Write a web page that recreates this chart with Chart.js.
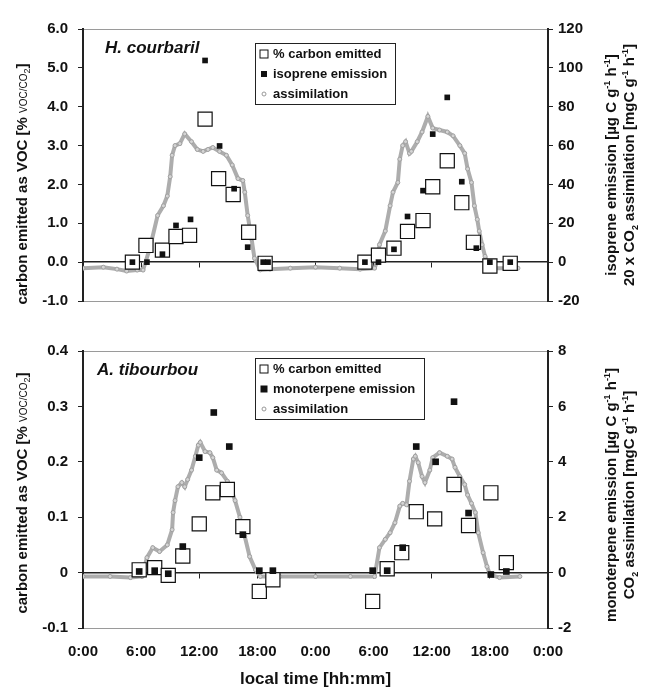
<!DOCTYPE html>
<html>
<head>
<meta charset="utf-8">
<script src="https://cdn.jsdelivr.net/npm/chart.js@4.4.0/dist/chart.umd.min.js"></script>
<style>
  body { margin: 0; background: #fff; font-family: 'Liberation Sans', Arial, sans-serif; color: #111; }
  #page { position: relative; width: 649px; height: 690px; overflow: hidden; }
  canvas { position: absolute; left: 0; }
  #topChart { top: 0; }
  #bottomChart { top: 320px; }
  .species { position: absolute; font-weight: bold; font-style: italic; font-size: 17px; line-height: 18px; white-space: nowrap; }
  .legend { position: absolute; border: 1px solid #222; background: #fff; font-size: 13px; font-weight: bold; box-sizing: border-box; }
  .legend div { position: relative; height: 20px; line-height: 20px; padding-left: 17px; white-space: nowrap; }
  .mk { position: absolute; left: 8px; top: 50%; transform: translate(-50%, -50%); box-sizing: border-box; }
  .mk-open { width: 9px; height: 9px; border: 1px solid #111; background: #fff; }
  .mk-fill { width: 6px; height: 6px; background: #111; }
  .mk-dot { width: 5px; height: 5px; border: 1px solid #999; border-radius: 50%; }
  .ytitle { position: absolute; transform: translate(-50%, -50%) rotate(-90deg); white-space: nowrap; font-weight: bold; font-size: 15px; line-height: 18px; text-align: center; }
  .small { font-weight: normal; font-size: 10px; }
  sup, sub { font-size: 9px; line-height: 0; }
</style>
</head>
<body>
<div id="page">
  <canvas id="topChart" width="649" height="320"></canvas>
  <canvas id="bottomChart" width="649" height="370"></canvas>

  <div class="species" style="left:105px;top:39px">H. courbaril</div>
  <div class="species" style="left:97px;top:361px">A. tibourbou</div>

  <div class="legend" style="left:255px;top:43px;width:141px;height:62px">
    <div><span class="mk mk-open"></span>% carbon emitted</div>
    <div><span class="mk mk-fill"></span>isoprene emission</div>
    <div><span class="mk mk-dot"></span>assimilation</div>
  </div>
  <div class="legend" style="left:255px;top:358px;width:170px;height:62px">
    <div><span class="mk mk-open"></span>% carbon emitted</div>
    <div><span class="mk mk-fill" style="width:7px;height:7px"></span>monoterpene emission</div>
    <div><span class="mk mk-dot"></span>assimilation</div>
  </div>

  <div class="ytitle" style="left:23px;top:184px">carbon emitted as VOC [% <span class="small">VOC/CO<sub>2</sub></span>]</div>
  <div class="ytitle" style="left:23px;top:493px">carbon emitted as VOC [% <span class="small">VOC/CO<sub>2</sub></span>]</div>
  <div class="ytitle" style="left:620px;top:165px">isoprene emission [µg C g<sup>-1</sup> h<sup>-1</sup>]<br>20 x CO<sub>2</sub> assimilation [mgC g<sup>-1</sup> h<sup>-1</sup>]</div>
  <div class="ytitle" style="left:620px;top:495px">monoterpene emission [µg C g<sup>-1</sup> h<sup>-1</sup>]<br>CO<sub>2</sub> assimilation [mgC g<sup>-1</sup> h<sup>-1</sup>]</div>
</div>

<script>
// H. courbaril (top panel), hours since first midnight
const topCarbonHours = [5.1, 6.5, 8.2, 9.6, 11.0, 12.6, 14.0, 15.5, 17.1, 18.8, 29.1, 30.5, 32.1, 33.5, 35.1, 36.1, 37.6, 39.1, 40.3, 42.0, 44.1];
const topCarbonPct = [0.0, 0.43, 0.31, 0.66, 0.69, 3.68, 2.15, 1.74, 0.77, -0.03, 0.0, 0.18, 0.36, 0.79, 1.07, 1.94, 2.61, 1.53, 0.51, -0.1, -0.03];
const topIsopreneHours = [5.1, 6.6, 8.2, 9.6, 11.1, 12.6, 14.1, 15.6, 17.0, 18.6, 19.1, 29.1, 30.5, 32.1, 33.5, 35.1, 36.1, 37.6, 39.1, 40.6, 42.0, 44.1];
const topIsoprene = [0, 0, 4.1, 18.9, 22.0, 103.8, 59.8, 37.8, 7.7, 0, 0, 0, 0, 6.6, 23.5, 36.8, 65.9, 84.8, 41.4, 7.2, 0, 0];
const topAssimHours = [0, 2.1, 3.5, 4.5, 5.6, 6.2, 6.9, 7.7, 8.3, 8.7, 9.0, 9.2, 9.5, 10.0, 10.5, 11.2, 11.8, 12.4, 12.9, 13.4, 14.1, 14.8, 15.4, 16.0, 16.5, 16.7, 17.0, 17.4, 17.7, 18.3, 19.3, 21.4, 24.0, 26.5, 28.6, 30.1,
  30.4, 30.6, 31.2, 31.7, 32.0, 32.5, 32.7, 33.0, 33.3, 33.7, 33.9, 34.5, 35.0, 35.6, 36.1, 36.8, 37.6, 38.2, 38.9, 39.4, 39.7, 40.1, 40.4, 40.7, 40.9, 41.2, 41.5, 41.8, 42.2, 43.5, 44.9];
const topAssim = [-3.1, -2.6, -3.6, -4.6, -4.1, -4.1, 7.2, 24, 29, 34, 44, 55, 60, 61, 66, 62, 58, 57, 58, 59, 57, 55, 50, 43, 42, 36, 24, 12, 2, -4, -3.6, -3.1, -2.6, -3.1, -3.6, -3.1,
  1, 9, 16, 29, 36, 41, 53, 60, 62, 56, 57, 62, 67, 75, 69, 68, 67, 65, 60, 56, 48, 41, 29, 22, 16, 9, 3, -0.5, -3.1, -3.1, -3.1];

// A. tibourbou (bottom panel)
const botCarbonHours = [5.8, 7.4, 8.8, 10.3, 12.0, 13.4, 14.9, 16.5, 18.2, 19.6, 29.9, 31.4, 32.9, 34.4, 36.3, 38.3, 39.8, 42.1, 43.7];
const botCarbonPct = [0.005, 0.009, -0.005, 0.03, 0.088, 0.144, 0.15, 0.083, -0.034, -0.013, -0.052, 0.007, 0.036, 0.11, 0.097, 0.159, 0.085, 0.144, 0.018];
const botMonoHours = [5.8, 7.4, 8.8, 10.3, 12.0, 13.5, 15.1, 16.5, 18.2, 19.6, 29.9, 31.4, 33.0, 34.4, 36.4, 38.3, 39.8, 42.1, 43.7];
const botMono = [0.04, 0.07, -0.04, 0.94, 4.15, 5.78, 4.55, 1.37, 0.07, 0.07, 0.07, 0.07, 0.9, 4.55, 4.0, 6.17, 2.15, -0.07, 0.04];
const botAssimHours = [0, 2.8, 4.9, 6.1, 6.6, 7.2, 7.9, 8.7, 9.2, 9.3, 9.5, 9.8, 10.2, 10.5, 10.8, 11.2, 11.6, 11.9, 12.1, 12.6, 13.1, 13.4, 13.8, 14.3, 14.9, 15.2, 15.7, 16.2, 16.7, 17.2, 17.8, 18.3, 20.3, 24.0, 27.6, 30.1,
  30.6, 31.2, 31.7, 32.2, 32.7, 33.0, 33.4, 33.7, 34.1, 34.3, 34.6, 35.0, 35.3, 35.8, 36.1, 36.8, 37.6, 38.1, 38.4, 38.9, 39.4, 39.7, 40.1, 40.5, 40.8, 41.3, 41.7, 42.0, 43.0, 45.1];
const botAssim = [-0.14, -0.14, -0.18, -0.14, 0.54, 0.9, 0.76, 1.0, 1.55, 2.17, 2.6, 3.1, 3.25, 3.1, 3.36, 3.7, 4.2, 4.6, 4.7, 4.37, 4.33, 4.15, 3.7, 3.6, 3.3, 3.1, 2.6, 2.0, 1.3, 0.58, 0.1, -0.14, -0.14, -0.14, -0.14, -0.14,
  0.9, 1.2, 1.44, 1.8, 2.4, 2.5, 2.45, 3.3, 4.1, 4.2, 3.97, 3.47, 3.25, 3.7, 4.15, 4.33, 4.2, 4.1, 3.8, 3.47, 3.18, 2.8, 2.5, 2.17, 1.44, 0.72, 0.22, -0.07, -0.18, -0.14];

const timeTicks = [0, 6, 12, 18, 24, 30, 36, 42, 48];

document.addEventListener("DOMContentLoaded", () => {
  Chart.defaults.font.family = "'Liberation Sans', Arial, sans-serif";
  Chart.defaults.color = '#111';

  const AXIS = '#222';
  const FRAME = '#9a9a9a';

  function pairs(xs, ys) {
    return xs.map((x, i) => ({ x: x, y: ys[i] }));
  }

  function near(a, b) {
    return Math.abs(a - b) < 1e-6;
  }

  function createPanel(id, p) {
    const scales = {
      // the time axis line sits on the zero line, like the original
      x: {
        type: 'linear', min: 0, max: 48, position: { y: 0 },
        afterBuildTicks: (s) => { s.ticks = timeTicks.map(v => ({ value: v })); },
        ticks: { display: false },
        grid: { drawOnChartArea: false, tickLength: 5, tickColor: AXIS },
        border: { color: AXIS, width: 1.5 }
      },
      y: {
        position: 'left', min: p.leftMin, max: p.leftMax,
        ticks: { stepSize: p.leftStep, padding: 10, font: { size: 15, weight: 'bold' }, callback: p.leftFmt },
        grid: {
          color: (c) => (near(c.tick.value, p.leftMin) || near(c.tick.value, p.leftMax)) ? FRAME : 'rgba(0,0,0,0)',
          tickColor: AXIS, tickLength: 5
        },
        border: { color: AXIS, width: 2 },
        afterFit: (s) => { s.width = 83; }
      },
      y1: {
        position: 'right', min: p.rightMin, max: p.rightMax,
        ticks: { stepSize: p.rightStep, padding: 5, font: { size: 15, weight: 'bold' } },
        grid: { drawOnChartArea: false, tickColor: AXIS, tickLength: 5 },
        border: { color: AXIS, width: 2 },
        afterFit: (s) => { s.width = 101; }
      }
    };

    if (p.showTime) {
      scales.x2 = {
        type: 'linear', axis: 'x', position: 'bottom', min: 0, max: 48,
        afterBuildTicks: (s) => { s.ticks = timeTicks.map(v => ({ value: v })); },
        ticks: { padding: 15, maxRotation: 0, autoSkip: false, font: { size: 15, weight: 'bold' }, callback: (v) => (v % 24) + ':00' },
        grid: { display: false, drawTicks: false },
        border: { display: false },
        title: { display: true, text: 'local time [hh:mm]', font: { size: 17, weight: 'bold' }, padding: { top: 0, bottom: 0 } },
        afterFit: (s) => { s.height = 62; }
      };
    }

    return new Chart(document.getElementById(id).getContext('2d'), {
      type: 'scatter',
      data: {
        datasets: [
          {
            label: p.emissionLabel, data: p.emission, yAxisID: 'y1',
            pointStyle: 'rect', pointRadius: p.fillRadius, backgroundColor: '#111', borderColor: '#111', borderWidth: 0
          },
          {
            label: '% carbon emitted', data: p.carbon, yAxisID: 'y',
            pointStyle: 'rect', pointRadius: 10, backgroundColor: '#fff', borderColor: '#111', borderWidth: 1.2
          },
          {
            label: 'assimilation', data: p.assim, yAxisID: 'y1', showLine: true,
            borderColor: '#adadad', borderWidth: 4, pointRadius: 2,
            pointBorderColor: '#a0a0a0', pointBackgroundColor: '#d4d4d4', pointBorderWidth: 1
          }
        ]
      },
      options: {
        responsive: false,
        animation: false,
        layout: { padding: { top: p.padTop, bottom: p.padBottom, left: 0, right: 0 } },
        plugins: { legend: { display: false }, tooltip: { enabled: false } },
        scales: scales
      }
    });
  }

  createPanel('topChart', {
    leftMin: -1, leftMax: 6, leftStep: 1, leftFmt: (v) => v.toFixed(1),
    rightMin: -20, rightMax: 120, rightStep: 20,
    carbon: pairs(topCarbonHours, topCarbonPct),
    emission: pairs(topIsopreneHours, topIsoprene),
    emissionLabel: 'isoprene emission',
    assim: pairs(topAssimHours, topAssim),
    fillRadius: 4, showTime: false, padTop: 29, padBottom: 17
  });

  createPanel('bottomChart', {
    leftMin: -0.1, leftMax: 0.4, leftStep: 0.1, leftFmt: (v) => Math.abs(v) < 1e-9 ? '0' : v.toFixed(1),
    rightMin: -2, rightMax: 8, rightStep: 2,
    carbon: pairs(botCarbonHours, botCarbonPct),
    emission: pairs(botMonoHours, botMono),
    emissionLabel: 'monoterpene emission',
    assim: pairs(botAssimHours, botAssim),
    fillRadius: 4.7, showTime: true, padTop: 31, padBottom: 0
  });
});
</script>
</body>
</html>
